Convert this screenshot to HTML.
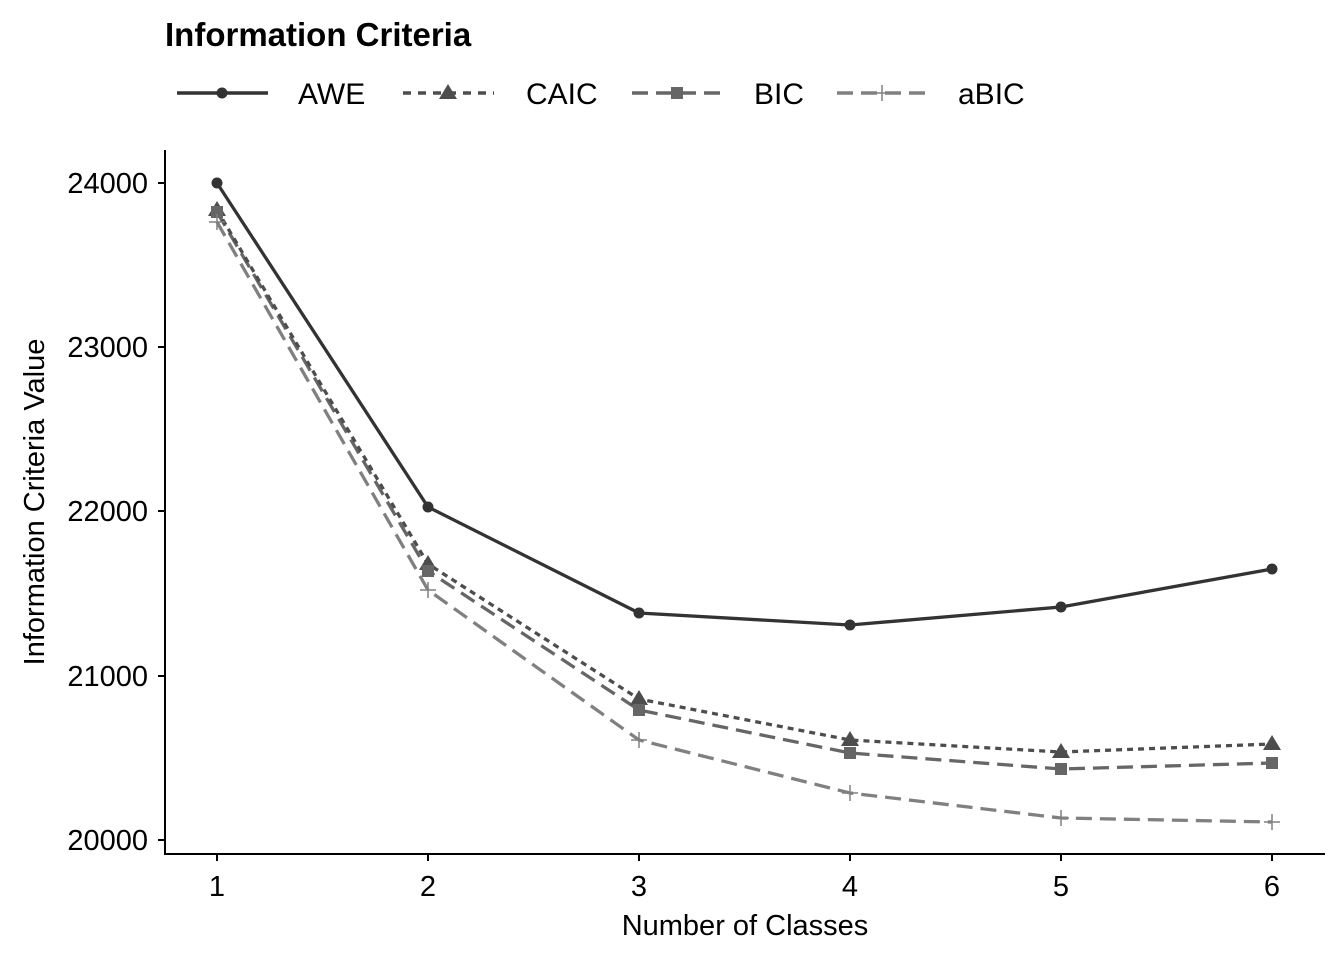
<!DOCTYPE html>
<html><head><style>body{margin:0;background:#fff}</style></head><body>
<svg width="1344" height="960" xmlns="http://www.w3.org/2000/svg" font-family="Liberation Sans, sans-serif">
<text x="165" y="46" font-size="33" font-weight="bold" fill="#000">Information Criteria</text>
<g stroke-width="3.5" fill="none">
<line x1="177" y1="93" x2="268" y2="93" stroke="#333"/>
<line x1="403" y1="93" x2="494" y2="93" stroke="#4d4d4d" stroke-dasharray="8,7"/>
<line x1="632" y1="93" x2="723" y2="93" stroke="#666" stroke-dasharray="16,8"/>
<line x1="837" y1="93" x2="928" y2="93" stroke="#808080" stroke-dasharray="16,8"/>
</g>
<circle cx="222" cy="93" r="5.5" fill="#333"/>
<polygon points="448,84 457,99 439,99" fill="#4d4d4d"/>
<rect x="671" y="87" width="12" height="12" fill="#666"/>
<path d="M882 85v16M874 93h16" stroke="#808080" stroke-width="1.5"/>
<g font-size="30" fill="#000">
<text x="298" y="104">AWE</text><text x="526" y="104">CAIC</text><text x="754" y="104">BIC</text><text x="958" y="104">aBIC</text>
</g>
<g stroke="#000" stroke-width="2">
<line x1="165" y1="150" x2="165" y2="855"/><line x1="164" y1="854" x2="1325" y2="854"/>
<path d="M158 183h7M158 347h7M158 511h7M158 676h7M158 840h7"/>
<path d="M217 854v7M428 854v7M639 854v7M850 854v7M1061 854v7M1272 854v7"/>
</g>
<g font-size="29" fill="#000" text-anchor="end">
<text x="148" y="193">24000</text><text x="148" y="357">23000</text><text x="148" y="521">22000</text><text x="148" y="686">21000</text><text x="148" y="850">20000</text>
</g>
<g font-size="29" fill="#000" text-anchor="middle">
<text x="217" y="896">1</text><text x="428" y="896">2</text><text x="639" y="896">3</text><text x="850" y="896">4</text><text x="1061" y="896">5</text><text x="1272" y="896">6</text>
<text x="745" y="935">Number of Classes</text>
<text transform="translate(44,502) rotate(-90)">Information Criteria Value</text>
</g>
<g fill="none" stroke-width="3.3">
<polyline stroke="#808080" stroke-dasharray="16,8" points="217,222 428,590 639,740 850,793 1061,818 1272,822"/>
<polyline stroke="#666" stroke-dasharray="16,8" points="217,212 428,571 639,710 850,753 1061,769 1272,763"/>
<polyline stroke="#4d4d4d" stroke-dasharray="6,5" points="217,210 428,564 639,699 850,740 1061,752 1272,744"/>
<polyline stroke="#333" points="217,183 428,507 639,613 850,625 1061,607 1272,569"/>
</g>
<g fill="#333"><circle cx="217" cy="183" r="5.5"/><circle cx="428" cy="507" r="5.5"/><circle cx="639" cy="613" r="5.5"/><circle cx="850" cy="625" r="5.5"/><circle cx="1061" cy="607" r="5.5"/><circle cx="1272" cy="569" r="5.5"/></g>
<g fill="#4d4d4d"><polygon points="217,201 226,216 208,216"/><polygon points="428,555 437,570 419,570"/><polygon points="639,690 648,705 630,705"/><polygon points="850,731 859,746 841,746"/><polygon points="1061,743 1070,758 1052,758"/><polygon points="1272,735 1281,750 1263,750"/></g>
<g fill="#666"><rect x="211" y="206" width="12" height="12"/><rect x="422" y="565" width="12" height="12"/><rect x="633" y="704" width="12" height="12"/><rect x="844" y="747" width="12" height="12"/><rect x="1055" y="763" width="12" height="12"/><rect x="1266" y="757" width="12" height="12"/></g>
<g stroke="#808080" stroke-width="1.5"><path d="M217 214v16M209 222h16M428 582v16M420 590h16M639 732v16M631 740h16M850 785v16M842 793h16M1061 810v16M1053 818h16M1272 814v16M1264 822h16"/></g>
</svg>
</body></html>
